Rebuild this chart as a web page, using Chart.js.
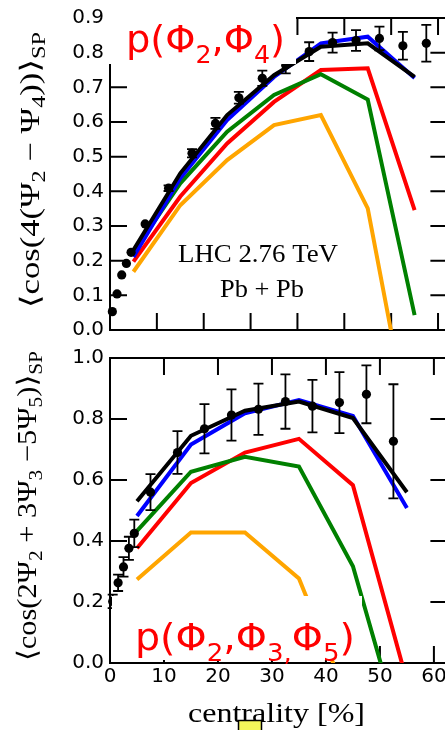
<!DOCTYPE html>
<html>
<head>
<meta charset="utf-8">
<script src="https://cdn.jsdelivr.net/npm/chart.js@4.4.0/dist/chart.umd.min.js"></script>
<style>
  html, body { margin: 0; padding: 0; background: #fff; overflow: hidden; width: 445px; height: 730px; }
  #topChart { position: absolute; left: 0; top: 0; }
  #botChart { position: absolute; left: 0; top: 340px; }
</style>
</head>
<body>
<canvas id="topChart" width="452" height="350"></canvas>
<canvas id="botChart" width="452" height="390"></canvas>
<script>
// ======================
// Data
// ======================
const topXTicks = [0, 10, 20, 30, 40, 50, 60, 70];
const topYTicks = [0, 0.1, 0.2, 0.3, 0.4, 0.5, 0.6, 0.7, 0.8, 0.9];
const botXTicks = [0, 10, 20, 30, 40, 50, 60];
const botYTicks = [0, 0.2, 0.4, 0.6, 0.8, 1.0];

// top panel: <cos(4(Psi2 - Psi4))>_SP
const topDataX   = [0.5, 1.5, 2.5, 3.5, 4.5, 7.5, 12.5, 17.5, 22.5, 27.5, 32.5, 37.5, 42.5, 47.5, 52.5, 57.5, 62.5, 67.5];
const topDataY   = [0.053, 0.104, 0.159, 0.192, 0.224, 0.306, 0.409, 0.51, 0.596, 0.67, 0.726, 0.764, 0.803, 0.829, 0.835, 0.841, 0.82, 0.827];
const topDataErr = [0.002, 0.002, 0.002, 0.003, 0.003, 0.004, 0.008, 0.012, 0.016, 0.017, 0.022, 0.024, 0.027, 0.029, 0.03, 0.034, 0.04, 0.053];
const topModelX  = [5, 15, 25, 35, 45, 55, 65];
const topBlack   = [0.231, 0.452, 0.62, 0.735, 0.817, 0.827, 0.73];
const topBlue    = [0.211, 0.438, 0.606, 0.73, 0.827, 0.846, 0.727];
const topGreen   = [0.225, 0.423, 0.572, 0.678, 0.738, 0.665, 0.043];
const topRed     = [0.197, 0.385, 0.538, 0.658, 0.75, 0.755, 0.346];
const topOrange  = [0.168, 0.36, 0.49, 0.591, 0.62, 0.351, -0.36];

// bottom panel: <cos(2Psi2 + 3Psi3 - 5Psi5)>_SP
const botDataX   = [0.5, 1.5, 2.5, 3.5, 4.5, 7.5, 12.5, 17.5, 22.5, 27.5, 32.5, 37.5, 42.5, 47.5, 52.5];
const botDataY   = [0.202, 0.263, 0.315, 0.376, 0.425, 0.56, 0.69, 0.768, 0.813, 0.832, 0.857, 0.842, 0.854, 0.881, 0.727];
const botDataErr = [0.022, 0.027, 0.032, 0.038, 0.045, 0.059, 0.07, 0.081, 0.084, 0.084, 0.089, 0.086, 0.1, 0.095, 0.187];
const botModelX  = [5, 15, 25, 35, 45, 55];
const botBlack   = [0.53, 0.745, 0.827, 0.857, 0.803, 0.56];
const botBlue    = [0.482, 0.716, 0.819, 0.862, 0.81, 0.508];
const botGreen   = [0.433, 0.627, 0.676, 0.644, 0.317, -0.3];
const botRed     = [0.376, 0.59, 0.69, 0.735, 0.583, -0.06];
const botOrange  = [0.274, 0.428, 0.428, 0.277, -0.16, null];

const xy = (xs, ys) => xs.map((x, i) => ({ x: x, y: ys[i] }));

// ======================
// Text helper (sub/superscripts, fit to width)
// ======================
function richText(ctx, parts, x, y, o) {
  let w = 0;
  parts.forEach(p => { ctx.font = p[1] + 'px ' + o.family; w += ctx.measureText(p[0]).width; });
  const sx = o.width ? o.width / w : 1;
  ctx.save();
  ctx.translate(x, y);
  if (o.rotate) ctx.rotate(o.rotate);
  ctx.scale(sx, 1);
  ctx.fillStyle = o.color || '#000';
  ctx.textAlign = 'left';
  ctx.textBaseline = 'alphabetic';
  let cx = o.align === 'center' ? -w / 2 : 0;
  parts.forEach(p => {
    ctx.font = p[1] + 'px ' + o.family;
    ctx.fillStyle = p[3] || o.color || '#000';
    ctx.fillText(p[0], cx, p[2] || 0);
    cx += ctx.measureText(p[0]).width;
  });
  ctx.restore();
}

const SERIF = '"Liberation Serif", "DejaVu Serif", serif';
const SANS = '"DejaVu Sans", sans-serif';

// ======================
// Plugins
// ======================
const framePlugin = {
  id: 'frame',
  beforeDatasetsDraw(chart, args, opts) {
    const { ctx, chartArea: a, scales: { x, y } } = chart;
    const tl = 17;
    ctx.save();
    ctx.strokeStyle = '#000';
    ctx.lineWidth = 2;
    ctx.strokeRect(a.left, a.top, a.right - a.left, a.bottom - a.top);
    ctx.beginPath();
    opts.xTicks.forEach(v => {
      const px = x.getPixelForValue(v);
      if (px <= a.left + 1 || px >= a.right - 1) return;
      ctx.moveTo(px, a.bottom); ctx.lineTo(px, a.bottom - tl);
      ctx.moveTo(px, a.top); ctx.lineTo(px, a.top + tl);
    });
    opts.yTicks.forEach(v => {
      const py = y.getPixelForValue(v);
      if (py <= a.top + 1 || py >= a.bottom - 1) return;
      ctx.moveTo(a.left, py); ctx.lineTo(a.left + tl, py);
      ctx.moveTo(a.right, py); ctx.lineTo(a.right - tl, py);
    });
    ctx.stroke();
    ctx.restore();
  }
};

const errorBarPlugin = {
  id: 'errbars',
  afterDatasetsDraw(chart, args, opts) {
    const { ctx, scales: { x, y } } = chart;
    ctx.save();
    ctx.strokeStyle = '#000';
    ctx.lineWidth = 1.8;
    ctx.beginPath();
    opts.xs.forEach((v, i) => {
      const e = opts.err[i];
      const px = x.getPixelForValue(v);
      const y1 = y.getPixelForValue(opts.ys[i] - e);
      const y2 = y.getPixelForValue(opts.ys[i] + e);
      if (y1 - y2 < 3) return;
      ctx.moveTo(px, y1); ctx.lineTo(px, y2);
      ctx.moveTo(px - 5, y1); ctx.lineTo(px + 5, y1);
      ctx.moveTo(px - 5, y2); ctx.lineTo(px + 5, y2);
    });
    ctx.stroke();
    ctx.restore();
  }
};

const overlayPlugin = {
  id: 'overlay',
  afterDatasetsDraw(chart, args, opts) {
    const ctx = chart.ctx;
    const off = opts.offset;
    // white label box
    const b = opts.box;
    ctx.save();
    ctx.fillStyle = '#fff';
    ctx.fillRect(b[0], b[1] - off, b[2], b[3]);
    ctx.restore();
    const L = opts.label;
    richText(ctx, L.parts, L.x, L.y - off, { family: SANS, color: '#ff0000', width: L.width });
  },
  afterDraw(chart, args, opts) {
    const ctx = chart.ctx;
    const off = opts.offset;
    const T = opts.ytitle;
    richText(ctx, T.parts, T.x, T.y - off, { family: SERIF, rotate: -Math.PI / 2, align: 'center', width: T.width });
    (opts.texts || []).forEach(t => {
      richText(ctx, t.parts, t.x, t.y - off, { family: SERIF, align: 'center', width: t.width });
    });
    if (opts.marker) {
      const m = opts.marker;
      ctx.save();
      ctx.fillStyle = '#f4f65a';
      ctx.strokeStyle = '#000';
      ctx.lineWidth = 1.5;
      ctx.fillRect(m[0], m[1] - off, m[2], m[3]);
      ctx.strokeRect(m[0], m[1] - off, m[2], m[3]);
      ctx.restore();
    }
  }
};

// ======================
// Panel builder
// ======================
function lineSet(xs, ys, color) {
  return { data: xy(xs, ys), borderColor: color, borderWidth: 4, pointRadius: 0, fill: false, tension: 0, clip: 0 };
}

function makePanel(id, p) {
  return new Chart(document.getElementById(id).getContext('2d'), {
    type: 'line',
    data: {
      datasets: [
        { data: xy(p.dataX, p.dataY), showLine: false, pointRadius: 4.6, pointBackgroundColor: '#000', pointBorderWidth: 0, clip: false },
        lineSet(p.modelX, p.black, '#000000'),
        lineSet(p.modelX, p.blue, '#0000ff'),
        lineSet(p.modelX, p.green, '#008000'),
        lineSet(p.modelX, p.red, '#ff0000'),
        lineSet(p.modelX, p.orange, '#ffa500')
      ]
    },
    options: {
      responsive: false,
      animation: false,
      devicePixelRatio: 1,
      layout: { padding: p.padding },
      plugins: {
        legend: { display: false },
        tooltip: { enabled: false },
        frame: { xTicks: p.xTicks, yTicks: p.yTicks },
        errbars: { xs: p.dataX, ys: p.dataY, err: p.dataErr },
        overlay: p.overlay
      },
      scales: {
        x: {
          type: 'linear', min: 0, max: p.xMax,
          grid: { display: false, drawTicks: false },
          border: { display: false },
          ticks: { display: p.xLabels, color: '#000', padding: 2, maxRotation: 0, autoSkip: false,
                   font: { family: SANS, size: 20 } },
          afterBuildTicks: s => { s.ticks = p.xTicks.map(v => ({ value: v })); },
          afterFit: s => { s.height = p.xHeight; }
        },
        y: {
          min: 0, max: p.yMax,
          grid: { display: false, drawTicks: false },
          border: { display: false },
          ticks: { color: '#000', padding: 6, autoSkip: false, font: { family: SANS, size: 20 },
                   callback: v => v.toFixed(1) },
          afterBuildTicks: s => { s.ticks = p.yTicks.map(v => ({ value: v })); },
          afterFit: s => { s.width = 110; }
        }
      }
    },
    plugins: [framePlugin, errorBarPlugin, overlayPlugin]
  });
}

makePanel('topChart', {
  dataX: topDataX, dataY: topDataY, dataErr: topDataErr,
  modelX: topModelX, black: topBlack, blue: topBlue, green: topGreen, red: topRed, orange: topOrange,
  xTicks: topXTicks, yTicks: topYTicks, xMax: 72, yMax: 0.9, xLabels: false, xHeight: 0,
  padding: { left: 0, right: 3, top: 17.5, bottom: 20 },
  overlay: {
    offset: 0,
    box: [108, 0, 188, 64],
    label: { x: 126, y: 52, width: 159, parts: [['p(Φ', 38], ['2', 25, 11], [',Φ', 38], ['4', 25, 11], [')', 38]] },
    ytitle: { x: 38.5, y: 170, width: 276, parts: [['⟨cos(4(Ψ', 27], ['2', 19, 6], [' − Ψ', 27], ['4', 19, 6], ['))⟩', 27], ['SP', 19, 6]] },
    texts: [
      { x: 258, y: 261.5, width: 160, parts: [['LHC 2.76 TeV', 25]] },
      { x: 262, y: 296.5, width: 84, parts: [['Pb + Pb', 25]] }
    ]
  }
});

makePanel('botChart', {
  dataX: botDataX, dataY: botDataY, dataErr: botDataErr,
  modelX: botModelX, black: botBlack, blue: botBlue, green: botGreen, red: botRed, orange: botOrange,
  xTicks: botXTicks, yTicks: botYTicks, xMax: 62.5, yMax: 1.0, xLabels: true, xHeight: 67,
  padding: { left: 0, right: 3.5, top: 14, bottom: 0 },
  overlay: {
    offset: 340,
    box: [112, 596, 250, 64],
    label: { x: 135, y: 650, width: 220, parts: [['p(Φ', 38], ['2', 25, 11], [',Φ', 38], ['3,', 25, 11], ['Φ', 38], ['5', 25, 11], [')', 38]] },
    ytitle: { x: 36, y: 506, width: 310, parts: [['⟨cos(2Ψ', 27], ['2', 19, 6], [' + 3Ψ', 27], ['3', 19, 6], [' −5Ψ', 27], ['5', 19, 6], [')⟩', 27], ['SP', 19, 6]] },
    texts: [
      { x: 276.5, y: 722, width: 177, parts: [['centrality [%]', 28]] }
    ],
    marker: [238.5, 720.5, 23, 12]
  }
});
</script>
</body>
</html>
